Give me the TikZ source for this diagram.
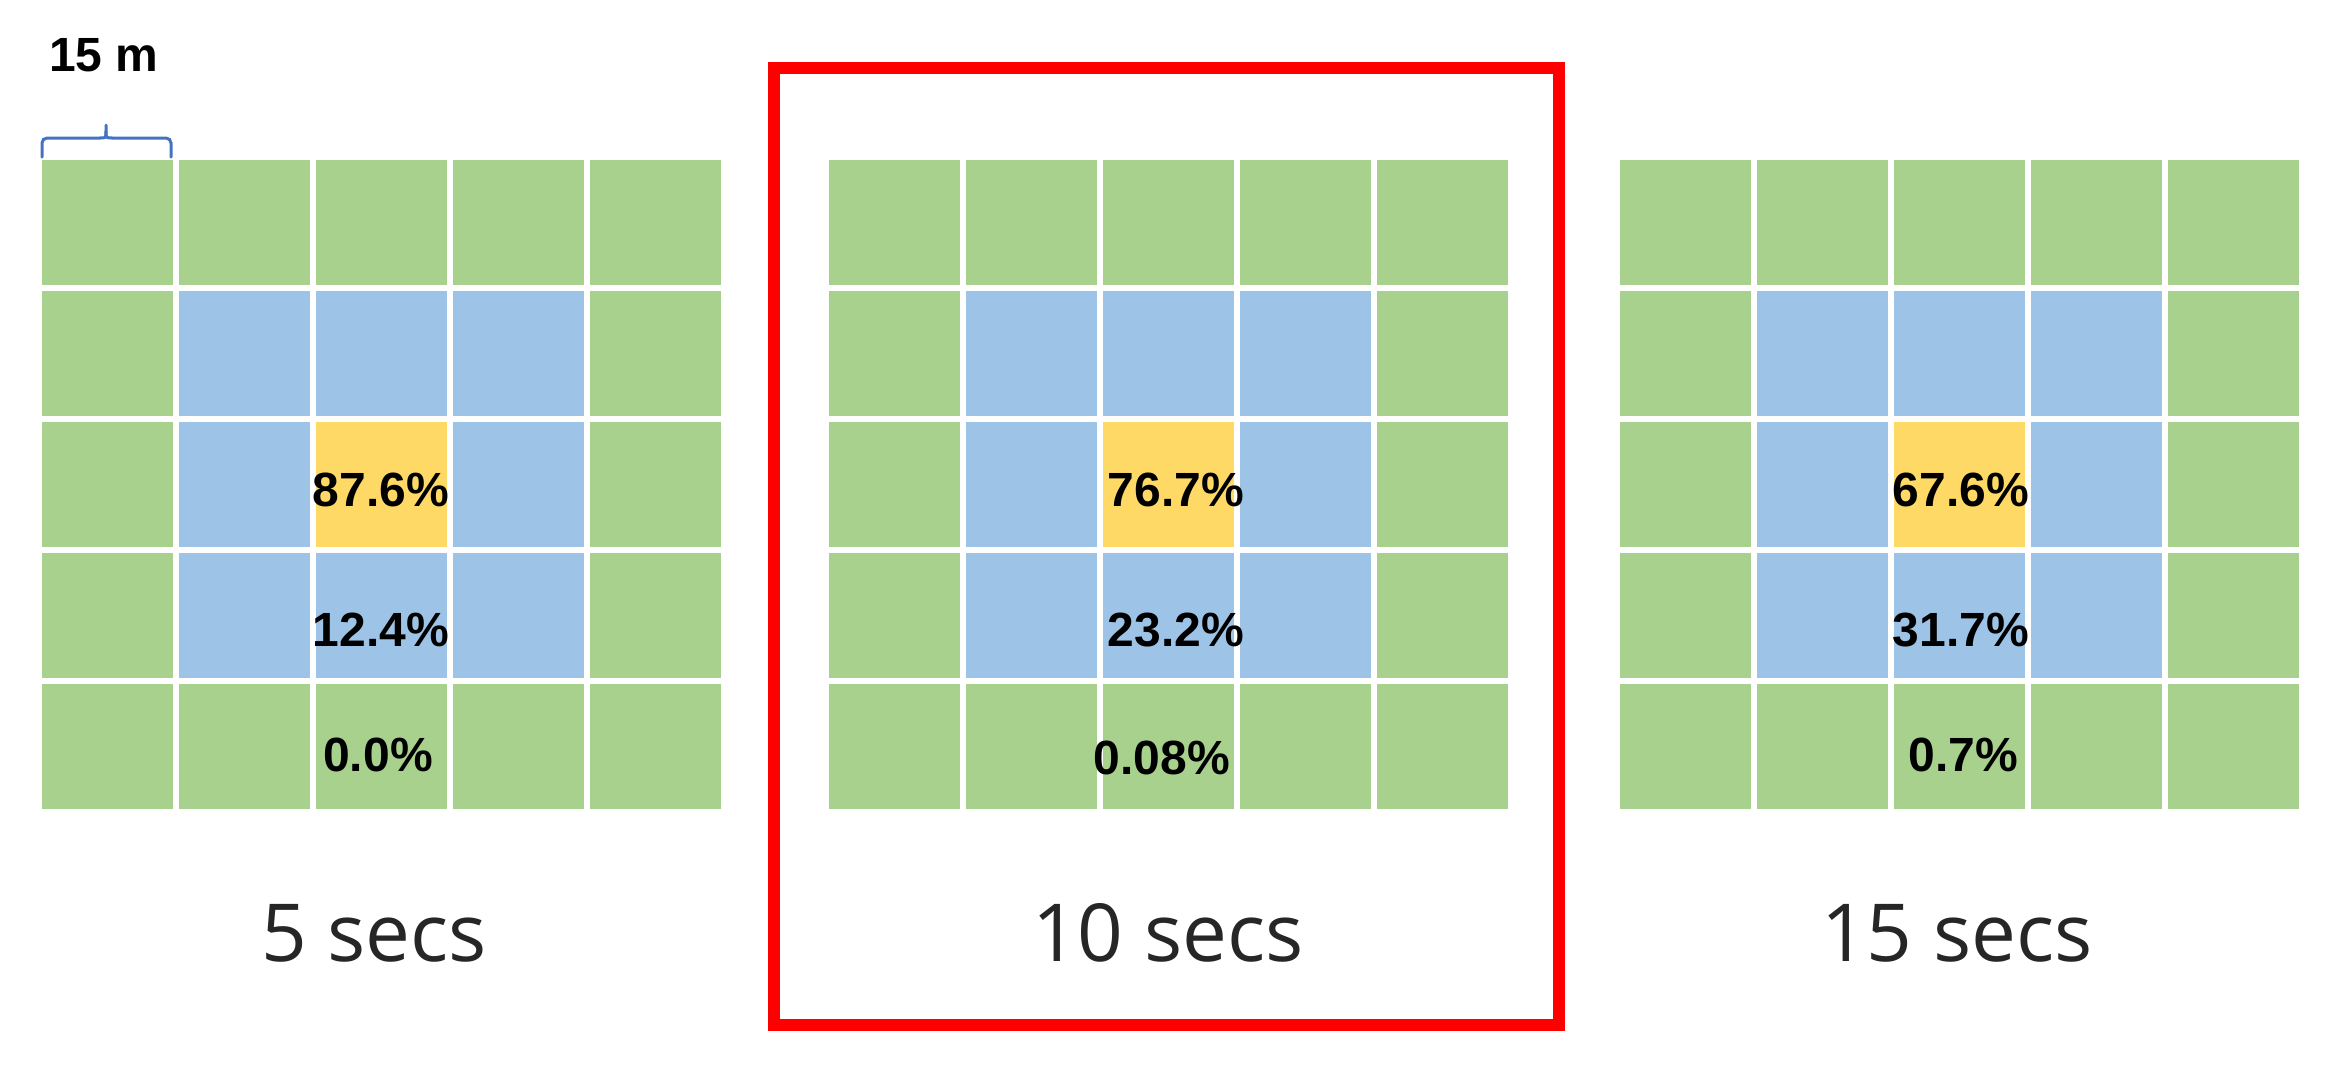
\documentclass[tikz,border=0pt]{standalone}
\usepackage{fontspec}
\setmainfont{Liberation Sans}
\newfontfamily\lightfont{Open Sans}
\definecolor{cgreen}{HTML}{A9D18E}
\definecolor{cblue}{HTML}{9DC3E6}
\definecolor{cyellow}{HTML}{FFD966}
\definecolor{cbrace}{HTML}{4472C4}
\definecolor{ctext}{HTML}{262626}
\begin{document}
\begin{tikzpicture}[x=1pt,y=-1pt,
  cell/.style={rectangle, draw=none, inner sep=0pt, minimum width=131pt, minimum height=125pt},
  pct/.style={inner sep=0pt, font=\fontsize{48}{56}\selectfont\bfseries, text=black},
  caption/.style={inner sep=0pt, font=\lightfont\fontsize{80}{96}\selectfont, text=ctext},
  scalelbl/.style={inner sep=0pt, font=\fontsize{48}{56}\selectfont\bfseries, text=black},
  bracepath/.style={draw=cbrace, line width=3pt, line cap=round},
  redframe/.style={rectangle, draw=red, line width=12pt, inner sep=0pt, minimum width=785pt, minimum height=957pt}]
\useasboundingbox (0,0) rectangle (2330,1069);
\fill[white] (0,0) rectangle (2330,1069);
% grids
\foreach \g/\gx in {1/42, 2/829, 3/1620} {
  \foreach \r in {0,...,4} {
    \foreach \c in {0,...,4} {
      \pgfmathtruncatemacro\inn{(\r>0)&&(\r<4)&&(\c>0)&&(\c<4)}
      \pgfmathtruncatemacro\ctr{(\r==2)&&(\c==2)}
      \ifnum\ctr=1 \def\col{cyellow}\else\ifnum\inn=1 \def\col{cblue}\else\def\col{cgreen}\fi\fi
      \node[cell, fill=\col] (g\g-\r-\c) at ({\gx+65.5+\c*137},{222.5+\r*131}) {};
    }
  }
}
% percentages
\node[pct] (p1a) at (381,490) {87.6\%};
\node[pct] (p1b) at (381,630) {12.4\%};
\node[pct] (p1c) at (378,755) {0.0\%};
\node[pct] (p2a) at (1176,490) {76.7\%};
\node[pct] (p2b) at (1176,630) {23.2\%};
\node[pct] (p2c) at (1162,758) {0.08\%};
\node[pct] (p3a) at (1961,490) {67.6\%};
\node[pct] (p3b) at (1961,630) {31.7\%};
\node[pct] (p3c) at (1963,755) {0.7\%};
% captions
\node[caption] (t1) at (374,933) {5 secs};
\node[caption] (t2) at (1168,933) {10 secs};
\node[caption] (t3) at (1957,933) {15 secs};
% red frame
\node[redframe] (frame) at (1166.5,546.5) {};
% scale brace
\node[scalelbl] (lbl) at (104,55) {15 m};
\coordinate (bl) at (42,157);
\coordinate (br) at (171,157);
\coordinate (bt) at (106,125);
\draw[bracepath, rounded corners=5pt] (bl) -- (42,138) -- (100,138);
\draw[bracepath, rounded corners=5pt] (br) -- (171,138) -- (112,138);
\draw[bracepath] (100,138) .. controls (106,138) .. (106,131) -- (bt);
\draw[bracepath] (112,138) .. controls (106,138) .. (106,131);
\end{tikzpicture}
\end{document}
